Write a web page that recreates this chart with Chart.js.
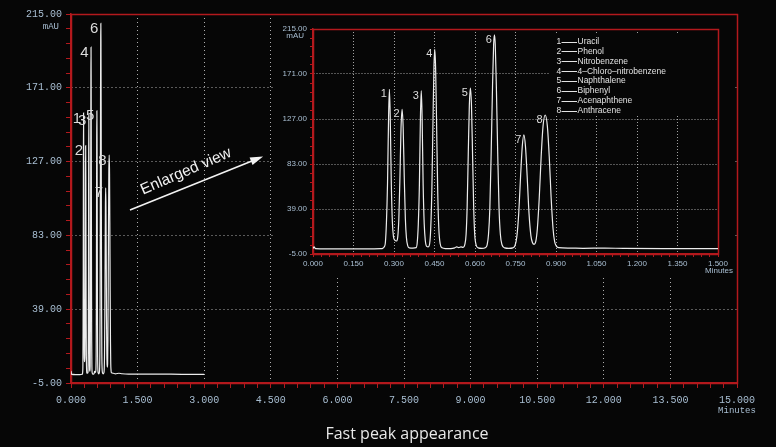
<!DOCTYPE html>
<html><head><meta charset="utf-8">
<script src="https://cdn.jsdelivr.net/npm/chart.js@4.4.1/dist/chart.umd.min.js"></script>
<style>
html,body{margin:0;padding:0;background:#060606;}
#wrap{position:relative;width:776px;height:447px;overflow:hidden;background:#060606;}
#main{position:absolute;left:0;top:0;}
#inset{position:absolute;left:273px;top:16px;background:#060606;}
</style></head>
<body><div id="wrap"><canvas id="main" width="776" height="447"></canvas><canvas id="inset" width="462" height="262"></canvas></div>
<script>
// ---- data ----
const times = [0.000,0.004,0.009,0.100,0.200,0.250,
 0.258,0.264,0.268,0.272,0.276,0.280,0.283,0.286,0.290,0.294,0.298,0.303,0.309,
 0.314,0.318,0.322,0.326,0.330,0.334,0.338,0.342,0.346,0.351,0.357,0.370,0.382,
 0.386,0.390,0.394,0.398,0.401,0.404,0.408,0.412,0.416,0.421,0.427,
 0.432,0.436,0.440,0.444,0.448,0.451,0.454,0.458,0.462,0.466,0.471,0.478,0.490,0.510,0.525,0.532,0.540,0.548,0.556,
 0.562,0.567,0.571,0.575,0.579,0.583,0.587,0.591,0.595,0.599,0.604,0.612,0.625,0.638,
 0.645,0.650,0.655,0.660,0.665,0.669,0.672,0.675,0.679,0.684,0.689,0.694,0.700,0.710,0.725,0.740,
 0.748,0.755,0.762,0.769,0.775,0.781,0.787,0.793,0.800,0.807,0.813,0.819,
 0.825,0.831,0.838,0.845,0.852,0.860,0.868,0.875,0.882,0.889,0.895,0.902,0.910,0.950,1.000,1.080,1.150,1.300,1.500,2.000,2.500,3.000];
const absorbance = [0.3,2,0.3,0,0,0.2,
 0.5,2,6,26,64,130,156,130,64,26,12,8.5,7.7,
 12,30,70,118,136.5,118,70,30,11,3,1,0.8,1.2,
 6,24,62,130,154.7,130,62,24,8,2.5,2,
 5,20,55,118,178,195.2,178,118,55,20,5,1,0.3,0.3,1,2,1.2,2,1.5,
 4,14,42,92,140,157.3,140,92,42,14,4,1,0.5,1.2,
 4,14,40,95,160,200,209.4,200,160,95,40,14,4,1,0.5,1,
 3,12,35,72,100,111.4,100,72,35,13,6,4.5,
 7,20,50,90,120,130.9,120,90,50,20,7,2.5,1.2,0.8,0.5,0.8,0.5,0.3,0.3,0.3,0.2,0.2];
const peakNumbers = ['1','2','3','4','5','6','7','8'];
const peakTimes   = [0.283,0.330,0.401,0.451,0.583,0.672,0.781,0.860];
const peakHeights = [156,136.5,154.7,195.2,157.3,209.4,111.4,130.9];
const compounds = ['Uracil','Phenol','Nitrobenzene','4\u2013Chloro\u2013nitrobenzene','Naphthalene','Biphenyl','Acenaphthene','Anthracene'];
// tick labels
const yTicks = [-5,39,83,127,171,215];
const xTicksMain = [0,1.5,3,4.5,6,7.5,9,10.5,12,13.5,15];
const xTicksInset = [0,0.15,0.3,0.45,0.6,0.75,0.9,1.05,1.2,1.35,1.5];
const yUnit = 'mAU';
const xUnit = 'Minutes';
const caption = 'Fast peak appearance';
const arrowText = 'Enlarged view';

// ---- styling ----
const BG = '#060606';
const RED = '#b3191d';
const LABEL = '#a9bfd3';
const TRACE = '#ececec';

function withMinor(majors, sub){
  const out=[];
  for(let i=0;i<majors.length;i++){
    out.push({value:majors[i], minor:false});
    if(i<majors.length-1){
      const d=(majors[i+1]-majors[i])/sub;
      for(let k=1;k<sub;k++) out.push({value:majors[i]+k*d, minor:true});
    }
  }
  return out;
}

function axis(o){
  const majors=o.majors, lo=majors[0], hi=majors[majors.length-1];
  return {
    type:'linear', min:lo, max:hi,
    afterBuildTicks: s => { s.ticks = withMinor(majors,5); },
    afterFit: s => { if(o.horizontal) s.height=o.size; else s.width=o.size; },
    ticks:{autoSkip:false, maxRotation:0, minRotation:0, padding:o.pad, color:LABEL,
      font:o.font,
      callback:(v,i,t)=> (t[i] && t[i].minor) ? '' : Number(v).toFixed(o.dec)},
    grid:{
      color: c => (c.tick && !c.tick.minor && Math.abs(c.tick.value-lo)>1e-9 && Math.abs(c.tick.value-hi)>1e-9) ? o.gridColor : 'rgba(0,0,0,0)',
      lineWidth:1, drawTicks:true, tickLength:o.tl, tickColor:RED, tickWidth:1
    },
    border:{display:true, color:RED, width:1.5, dash:o.dash}
  };
}

function framePlugin(){
  return {id:'frame', beforeDatasetsDraw(chart){
    const {ctx, chartArea:a}=chart;
    ctx.save(); ctx.strokeStyle=RED; ctx.lineWidth=1.5;
    ctx.strokeRect(Math.round(a.left)+0.5, Math.round(a.top)+0.5, Math.round(a.right-a.left), Math.round(a.bottom-a.top));
    ctx.restore();
  }};
}

function peakLabelPlugin(font, dx, dy){
  return {id:'peakLabels', afterDatasetsDraw(chart){
    const {ctx, scales:{x,y}}=chart;
    ctx.save(); ctx.fillStyle='#dcdcdc'; ctx.font=font; ctx.textAlign='right'; ctx.textBaseline='middle';
    peakNumbers.forEach((n,i)=>{
      ctx.fillText(n, x.getPixelForValue(peakTimes[i])+dx, y.getPixelForValue(peakHeights[i])+dy);
    });
    ctx.restore();
  }};
}

function unitPlugin(font, yOff, xOff){
  return {id:'units', afterDraw(chart){
    const {ctx, chartArea:a, scales:{x,y}}=chart;
    ctx.save(); ctx.fillStyle=LABEL; ctx.font=font; ctx.textBaseline='middle';
    ctx.textAlign='right'; ctx.fillText(yUnit, a.left+yOff[0], y.getPixelForValue(y.max)+yOff[1]);
    ctx.textAlign='center'; ctx.fillText(xUnit, x.getPixelForValue(x.max)+xOff[0], a.bottom+xOff[1]);
    ctx.restore();
  }};
}

const points = times.map((t,i)=>({x:t, y:absorbance[i]}));

const annotPlugin = {id:'annot', afterDraw(chart){
  const {ctx, chartArea:a, scales:{x,y}}=chart;
  ctx.save();
  // arrow
  const x1=x.getPixelForValue(1.328), y1=y.getPixelForValue(98.2);
  const x2=x.getPixelForValue(4.327), y2=y.getPixelForValue(130.1);
  const ang=Math.atan2(y2-y1, x2-x1);
  ctx.strokeStyle='#f2f2f2'; ctx.fillStyle='#f2f2f2'; ctx.lineWidth=1.6;
  ctx.beginPath(); ctx.moveTo(x1,y1); ctx.lineTo(x2-8*Math.cos(ang), y2-8*Math.sin(ang)); ctx.stroke();
  ctx.beginPath(); ctx.moveTo(x2,y2);
  ctx.lineTo(x2-13*Math.cos(ang)+4*Math.sin(ang), y2-13*Math.sin(ang)-4*Math.cos(ang));
  ctx.lineTo(x2-13*Math.cos(ang)-4*Math.sin(ang), y2-13*Math.sin(ang)+4*Math.cos(ang));
  ctx.closePath(); ctx.fill();
  // rotated text
  const tx=x.getPixelForValue(2.59), ty=y.getPixelForValue(121.1);
  ctx.translate(tx,ty); ctx.rotate(ang-0.025);
  ctx.font='15.5px "Liberation Sans", Arial, sans-serif'; ctx.textAlign='center'; ctx.textBaseline='middle';
  ctx.fillText(arrowText,0,0);
  ctx.setTransform(1,0,0,1,0,0);
  // caption
  ctx.font='16px "Open Sans", sans-serif'; ctx.fillStyle='#e8e8e8'; ctx.textAlign='center'; ctx.textBaseline='alphabetic';
  ctx.fillText(caption, (a.left+a.right)/2+3, a.bottom+55.7);
  ctx.restore();
}};

const legendPlugin = {id:'cmpLegend', beforeDatasetsDraw(chart){
  const {ctx, chartArea:a}=chart;
  ctx.save();
  ctx.fillStyle=BG; ctx.fillRect(a.right-168, a.top+5, 167, 82);
  ctx.font='8.5px "Liberation Sans", Arial, sans-serif'; ctx.textBaseline='middle'; ctx.textAlign='left';
  ctx.fillStyle='#e2e2e2'; ctx.strokeStyle='#e2e2e2'; ctx.lineWidth=1;
  const x0=a.right-161.5;
  compounds.forEach((c,i)=>{
    const yy=a.top+12.5+i*9.9;
    ctx.fillText(peakNumbers[i], x0, yy);
    ctx.beginPath(); ctx.moveTo(x0+5, Math.round(yy)+0.5); ctx.lineTo(x0+20.5, Math.round(yy)+0.5); ctx.stroke();
    ctx.fillText(c, x0+21, yy);
  });
  ctx.restore();
}};

const monoFont = {family:'"Liberation Mono", "DejaVu Sans Mono", monospace', size:10};
const sansSmall = {family:'"Liberation Sans", Arial, sans-serif', size:8};

new Chart(document.getElementById('main'), {
  type:'line',
  data:{datasets:[{data:points, borderColor:TRACE, borderWidth:1.2, pointRadius:0, cubicInterpolationMode:'monotone', fill:false}]},
  options:{
    responsive:false, animation:false, devicePixelRatio:1,
    layout:{padding:{left:0, top:14, right:39, bottom:0}},
    plugins:{legend:{display:false}, tooltip:{enabled:false}},
    scales:{
      x: axis({majors:xTicksMain, horizontal:true, size:64, pad:6, font:monoFont, dec:3, tl:5, gridColor:'rgba(205,205,205,0.85)', dash:[1,3]}),
      y: axis({majors:yTicks, horizontal:false, size:71, pad:4, font:monoFont, dec:2, tl:5, gridColor:'rgba(205,205,205,0.85)', dash:[1,3]})
    }
  },
  plugins:[framePlugin(), peakLabelPlugin('15px "Liberation Sans", Arial, sans-serif', -2.5, 5.5), unitPlugin('9px "Liberation Mono", monospace', [-12, 12.7], [0, 27.7]), annotPlugin]
});

new Chart(document.getElementById('inset'), {
  type:'line',
  data:{datasets:[{data:points, borderColor:TRACE, borderWidth:1.2, pointRadius:0, cubicInterpolationMode:'monotone', fill:false}]},
  options:{
    responsive:false, animation:false, devicePixelRatio:1,
    layout:{padding:{left:0, top:13, right:17, bottom:0}},
    plugins:{legend:{display:false}, tooltip:{enabled:false}},
    scales:{
      x: axis({majors:xTicksInset, horizontal:true, size:24, pad:2, font:sansSmall, dec:3, tl:3, gridColor:'rgba(200,200,200,0.8)', dash:[1,2]}),
      y: axis({majors:yTicks, horizontal:false, size:40, pad:3, font:sansSmall, dec:2, tl:3, gridColor:'rgba(200,200,200,0.8)', dash:[1,2]})
    }
  },
  plugins:[framePlugin(), legendPlugin, peakLabelPlugin('11px "Liberation Sans", Arial, sans-serif', -2.5, 5), unitPlugin('8px "Liberation Sans", Arial, sans-serif', [-9, 6.8], [1, 16.5])]
});
</script>
</body></html>
